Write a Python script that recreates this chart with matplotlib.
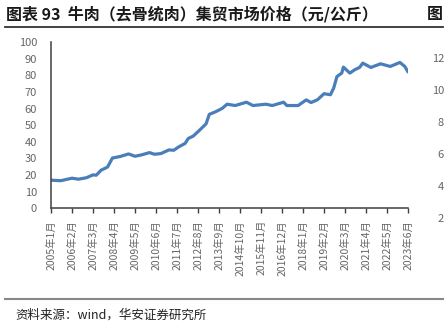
import matplotlib
matplotlib.use('Agg')
import matplotlib.pyplot as plt

plt.rcParams['font.family'] = ['Noto Sans CJK SC', 'DejaVu Sans']

# monthly beef price (yuan/kg)
months = ['2005-01', '2005-07', '2006-02', '2006-06', '2006-11', '2007-03',
          '2007-05', '2007-08', '2007-12', '2008-03', '2008-08', '2009-01',
          '2009-05', '2009-09', '2010-02', '2010-05', '2010-09', '2011-02',
          '2011-05', '2011-08', '2011-12', '2012-02', '2012-05', '2012-09',
          '2013-01', '2013-03', '2013-07', '2013-11', '2014-02', '2014-07',
          '2015-02', '2015-06', '2016-02', '2016-06', '2017-01', '2017-03',
          '2017-10', '2018-03', '2018-06', '2018-10', '2019-02', '2019-06',
          '2019-08', '2019-10', '2020-01', '2020-02', '2020-06', '2020-09',
          '2020-12', '2021-02', '2021-07', '2022-01', '2022-07', '2023-01',
          '2023-04', '2023-06']
prices = [16.9, 16.6, 18.1, 17.5, 18.4, 20.1,
          19.9, 22.9, 24.8, 30.2, 31.2, 32.7,
          31.3, 32.1, 33.5, 32.5, 32.9, 35.1,
          34.9, 36.9, 39.0, 42.0, 43.4, 47.0,
          50.8, 56.5, 58.1, 60.1, 62.6, 61.8,
          63.8, 61.8, 62.6, 61.8, 63.8, 61.8,
          61.8, 65.2, 63.6, 65.3, 68.9, 68.3,
          72.3, 79.2, 81.3, 84.9, 81.3, 83.3,
          84.7, 87.3, 84.7, 86.9, 85.3, 87.7,
          85.3, 82.0]

tick_labels = ['2005年1月', '2006年2月', '2007年3月', '2008年4月', '2009年5月',
               '2010年6月', '2011年7月', '2012年8月', '2013年9月', '2014年10月',
               '2015年11月', '2016年12月', '2018年1月', '2019年2月', '2020年3月',
               '2021年4月', '2022年5月', '2023年6月']


def month_index(s):
    y, m = s.split('-')
    return (int(y) - 2005) * 12 + int(m) - 1


x = [month_index(m) for m in months]
tick_pos = [i * 13 for i in range(len(tick_labels))]

fig = plt.figure(figsize=(4.45, 3.33), dpi=100)
ax = fig.add_axes([51 / 445, 1 - 208.3 / 333, (408 - 51) / 445, (208.3 - 42) / 333])

ax.plot(x, prices, color='#4a7ebb', lw=2.3, solid_capstyle='round',
        solid_joinstyle='round')

ax.set_xlim(0, 221)
ax.set_ylim(0, 100)
ax.set_yticks(range(0, 101, 10))
ax.set_xticks(tick_pos)
ax.set_xticklabels(tick_labels, rotation=90)

for s in ['top', 'right']:
    ax.spines[s].set_visible(False)
for s in ['left', 'bottom']:
    ax.spines[s].set_color('#404040')
    ax.spines[s].set_linewidth(1.1)

ax.tick_params(axis='y', length=0, pad=10, labelsize=8, labelcolor='#666666')
ax.tick_params(axis='x', length=3.5, width=1, color='#404040', pad=5,
               labelsize=7.5, labelcolor='#666666')

# title and rules
fig.text(6 / 445, 1 - 14 / 333, '图表 93  牛肉（去骨统肉）集贸市场价格（元/公斤）',
         fontsize=11.5, fontweight='bold', va='center', ha='left', color='#1a1a1a')
fig.text(443 / 445, 1 - 14 / 333, '图', fontsize=11.5, fontweight='bold',
         va='center', ha='right', color='#1a1a1a')
fig.add_artist(plt.Line2D([5 / 445, 443 / 445], [1 - 26.5 / 333] * 2,
                          color='#333333', lw=1.3))
fig.add_artist(plt.Line2D([5 / 445, 443 / 445], [1 - 299 / 333] * 2,
                          color='#888888', lw=1.5))
fig.text(15 / 445, 1 - 315 / 333, '资料来源：wind，华安证券研究所',
         fontsize=9, va='center', ha='left', color='#222222')

# clipped right-hand axis from the neighbouring chart
for v, ypix in zip([12, 10, 8, 6, 4, 2], [59, 91, 123, 155, 187, 219]):
    fig.text(444 / 445, 1 - ypix / 333, str(v), fontsize=8, color='#666666',
             ha='right', va='center')

fig.savefig('out.png', dpi=100)
